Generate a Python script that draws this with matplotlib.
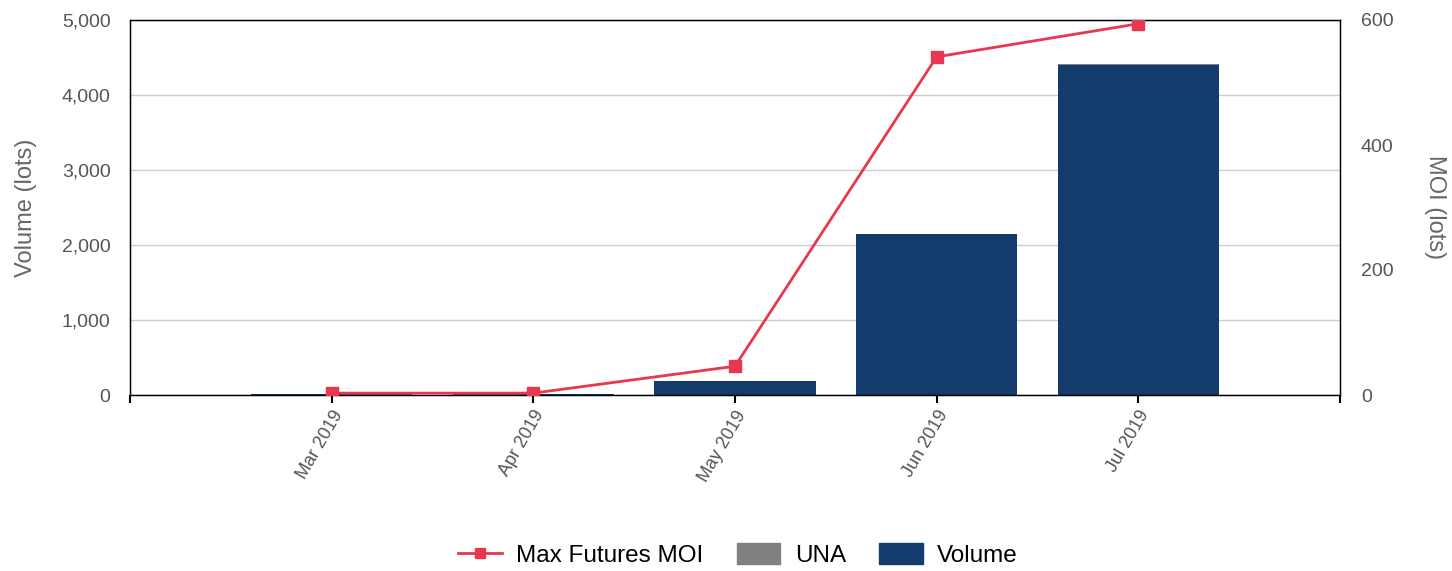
import matplotlib
matplotlib.use("Agg")
import matplotlib.pyplot as plt
from matplotlib.lines import Line2D
from matplotlib.patches import Patch

plt.rcParams['font.family'] = ['Liberation Sans', 'DejaVu Sans']

months = ["Mar 2019", "Apr 2019", "May 2019", "Jun 2019", "Jul 2019"]
volume = [12, 20, 190, 2150, 4400]
una = [0, 0, 0, 0, 10]
max_moi = [3, 3, 46, 541, 594]

navy = '#133B6B'
red = '#E8384F'
grey = '#808080'
tick_col = '#555555'

fig = plt.figure(figsize=(14.52, 5.71), dpi=100)
ax = fig.add_axes([130/1452, 1-395/571, 1210/1452, 375/571])
x = list(range(len(months)))

ax.bar(x, volume, width=0.8, color=navy, zorder=2)
ax.bar(x, una, width=0.8, bottom=volume, color=grey, zorder=2)
ax.set_xlim(-1, 5)
ax.set_ylim(0, 5000)
ax.set_yticks([0, 1000, 2000, 3000, 4000, 5000])
ax.set_yticklabels([f"{v:,}" for v in [0, 1000, 2000, 3000, 4000, 5000]])
ax.grid(axis='y', color='#cccccc', linewidth=1, zorder=0)
ax.set_axisbelow(True)
ax.set_xticks([-1] + x + [5])
ax.set_xticklabels([''] + months + [''], rotation=60, ha='right', rotation_mode='anchor')
ax.tick_params(axis='x', length=6, width=1.5, color='black', labelsize=13, labelcolor=tick_col, pad=3)
ax.tick_params(axis='y', length=0, labelsize=14, labelcolor=tick_col, pad=14)
for s in ax.spines.values():
    s.set_color('black')
    s.set_linewidth(1)
ax.set_ylabel("Volume (lots)", fontsize=17, color='#666666', labelpad=18)

ax2 = ax.twinx()
ax2.plot(x, max_moi, color=red, linewidth=2, marker='s', markersize=8, zorder=5)
ax2.set_ylim(0, 600)
ax2.set_yticks([0, 200, 400, 600])
ax2.tick_params(axis='y', length=0, labelsize=14, labelcolor=tick_col, pad=15)
for s in ax2.spines.values():
    s.set_color('black')
ax2.set_ylabel("MOI (lots)", fontsize=17, color='#666666', rotation=270, labelpad=38)

handles = [
    Line2D([0], [0], color=red, linewidth=2, marker='s', markersize=7),
    Patch(facecolor=grey, edgecolor=grey),
    Patch(facecolor=navy, edgecolor=navy),
]
fig.legend(handles, ["Max Futures MOI", "UNA", "Volume"], loc='center',
           bbox_to_anchor=(0.5 + 12/1452, 1-555/571), ncol=3, frameon=False, fontsize=17.5,
           handlelength=1.8, handleheight=0.95, columnspacing=1.35, handletextpad=0.6)

fig.savefig("out.png", dpi=100)
